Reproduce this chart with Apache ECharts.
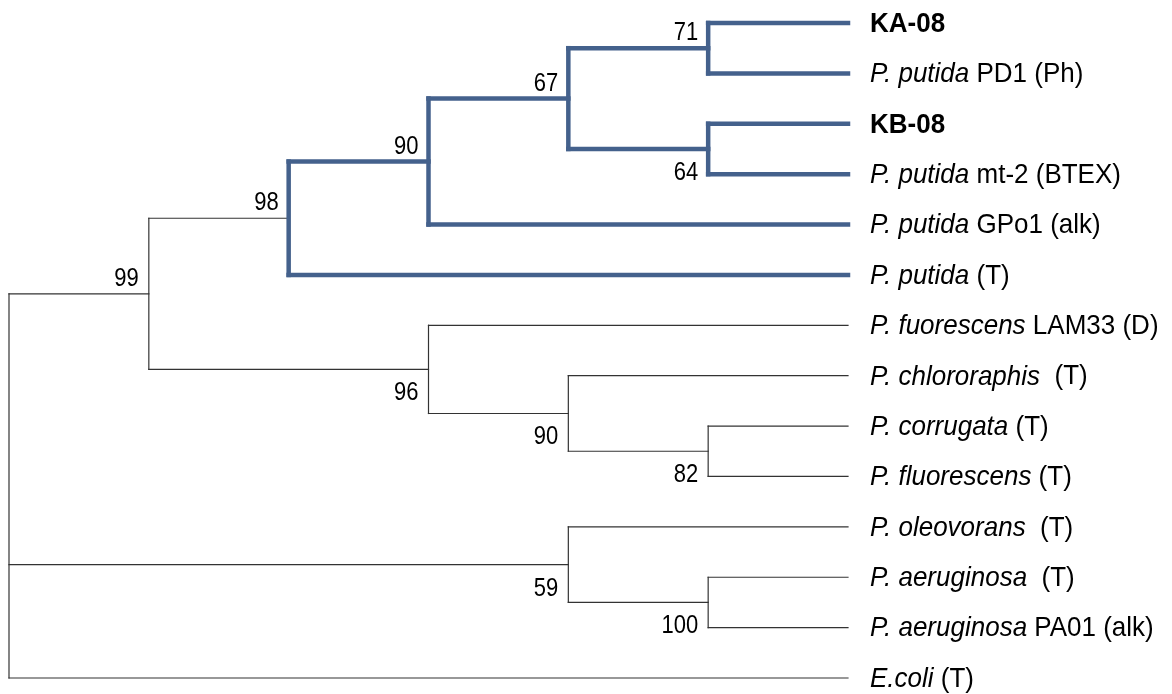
<!DOCTYPE html>
<html>
<head>
<meta charset="utf-8">
<script src="https://cdn.jsdelivr.net/npm/echarts@6/dist/echarts.min.js"></script>
<style>
html,body{margin:0;padding:0;background:#fff;}
#chart{width:1172px;height:694px;}
</style>
</head>
<body>
<div id="chart"></div>
<script>
// Leaves, top to bottom
var leafItalic = ['', 'P. putida', '', 'P. putida', 'P. putida', 'P. putida', 'P. fuorescens', 'P. chlororaphis', 'P. corrugata', 'P. fluorescens', 'P. oleovorans', 'P. aeruginosa', 'P. aeruginosa', 'E.coli'];
var leafPlain  = ['KA-08', 'PD1 (Ph)', 'KB-08', 'mt-2 (BTEX)', 'GPo1 (alk)', '(T)', 'LAM33 (D)', ' (T)', '(T)', '(T)', ' (T)', ' (T)', 'PA01 (alk)', '(T)'];
var leafBold   = [true, false, true, false, false, false, false, false, false, false, false, false, false, false];

// Internal nodes: id, depth (column), children (L = leaf index), bootstrap value
var nodeIds      = ['n71', 'n64', 'n67', 'n90a', 'n98', 'n82', 'n90b', 'n96', 'n99', 'n100', 'n59', 'root'];
var nodeDepth    = [5, 5, 4, 3, 2, 5, 4, 3, 1, 5, 4, 0];
var nodeChildren = [['L0','L1'], ['L2','L3'], ['n71','n64'], ['n67','L4'], ['n90a','L5'], ['L8','L9'], ['L7','n82'], ['L6','n90b'], ['n98','n96'], ['L11','L12'], ['L10','n100'], ['n99','n59','L13']];
var nodeSupport  = [71, 64, 67, 90, 98, 82, 90, 96, 99, 100, 59, null];
var supportAbove = [true, false, true, true, true, false, false, false, true, false, false, false];
var highlightedClade = 'n98';
var leafDepth = 6;

// ---- layout from tree structure ----
var pos = {};
leafItalic.forEach(function (_, i) { pos['L' + i] = { x: leafDepth, y: i }; });
var idx = {};
nodeIds.forEach(function (id, i) { idx[id] = i; });
function place(id) {
  if (pos[id]) return pos[id];
  var i = idx[id];
  var ch = nodeChildren[i].map(place);
  pos[id] = { x: nodeDepth[i], y: (ch[0].y + ch[ch.length - 1].y) / 2 };
  return pos[id];
}
place('root');
var hl = {};
function mark(id) { hl[id] = true; if (idx[id] !== undefined) nodeChildren[idx[id]].forEach(mark); }
mark(highlightedClade);

var segThin = [], segThick = [];
nodeIds.forEach(function (id, i) {
  var p = pos[id], ch = nodeChildren[i];
  var target = hl[id] ? segThick : segThin;
  target.push([p.x, pos[ch[0]].y, p.x, pos[ch[ch.length - 1]].y]);
  ch.forEach(function (c) { target.push([p.x, pos[c].y, pos[c].x, pos[c].y]); });
});

var leafPoints = [], leafTexts = [];
leafItalic.forEach(function (_, i) {
  var t = leafBold[i] ? '{b|' + leafPlain[i] + '}' :
    (leafItalic[i] ? '{i|' + leafItalic[i] + '}{n| ' + leafPlain[i] + '}' : '{n|' + leafPlain[i] + '}');
  leafPoints.push([leafDepth, i]);
  leafTexts.push(t);
});
var supportPoints = [], supportTexts = [], supportDy = [];
nodeIds.forEach(function (id, i) {
  if (nodeSupport[i] == null) return;
  var p = pos[id];
  supportPoints.push([p.x, p.y]);
  supportTexts.push(String(nodeSupport[i]));
  supportDy.push(supportAbove[i] ? -15 : 24);
});

var FONT = '"Liberation Sans", Arial, sans-serif';
function segSeries(data, color, width, cap) {
  return {
    type: 'custom', data: data, silent: true, clip: false,
    renderItem: function (params, api) {
      var a = api.coord([api.value(0), api.value(1)]);
      var b = api.coord([api.value(2), api.value(3)]);
      return { type: 'line', shape: { x1: a[0], y1: a[1], x2: b[0], y2: b[1] },
        style: { stroke: color, lineWidth: width, lineCap: cap } };
    }
  };
}

var chart = echarts.init(document.getElementById('chart'), null, { renderer: 'canvas' });
chart.setOption({
  animation: false,
  backgroundColor: '#ffffff',
  grid: { left: 9, right: 324, top: 23, bottom: 16 },
  xAxis: { type: 'value', min: 0, max: 6, show: false },
  yAxis: { type: 'value', min: 0, max: 13, inverse: true, show: false },
  series: [
    segSeries(segThin, '#333333', 1.2, 'square'),
    segSeries(segThick, '#44618c', 4.5, 'square'),
    {
      type: 'custom', data: leafPoints, silent: true, clip: false,
      renderItem: function (params, api) {
        var c = api.coord([api.value(0), api.value(1)]);
        return { type: 'text', x: c[0] + 22, y: c[1] + 1, scaleY: 1.08,
          style: { text: leafTexts[params.dataIndex], x: 0, y: 0, align: 'left', verticalAlign: 'middle',
            fill: '#000', fontFamily: FONT, fontSize: 26,
            rich: {
              i: { fontStyle: 'italic', fontFamily: FONT, fontSize: 26, fill: '#000' },
              n: { fontFamily: FONT, fontSize: 26, fill: '#000' },
              b: { fontWeight: 'bold', fontFamily: FONT, fontSize: 26, fill: '#000' }
            } } };
      }
    },
    {
      type: 'custom', data: supportPoints, silent: true, clip: false,
      renderItem: function (params, api) {
        var c = api.coord([api.value(0), api.value(1)]);
        return { type: 'text', x: c[0] - 10, y: c[1] + supportDy[params.dataIndex], scaleY: 1.15,
          style: { text: supportTexts[params.dataIndex], x: 0, y: 0, align: 'right', verticalAlign: 'middle',
            fill: '#000', fontFamily: FONT, fontSize: 22 } };
      }
    }
  ]
});
</script>
</body>
</html>
